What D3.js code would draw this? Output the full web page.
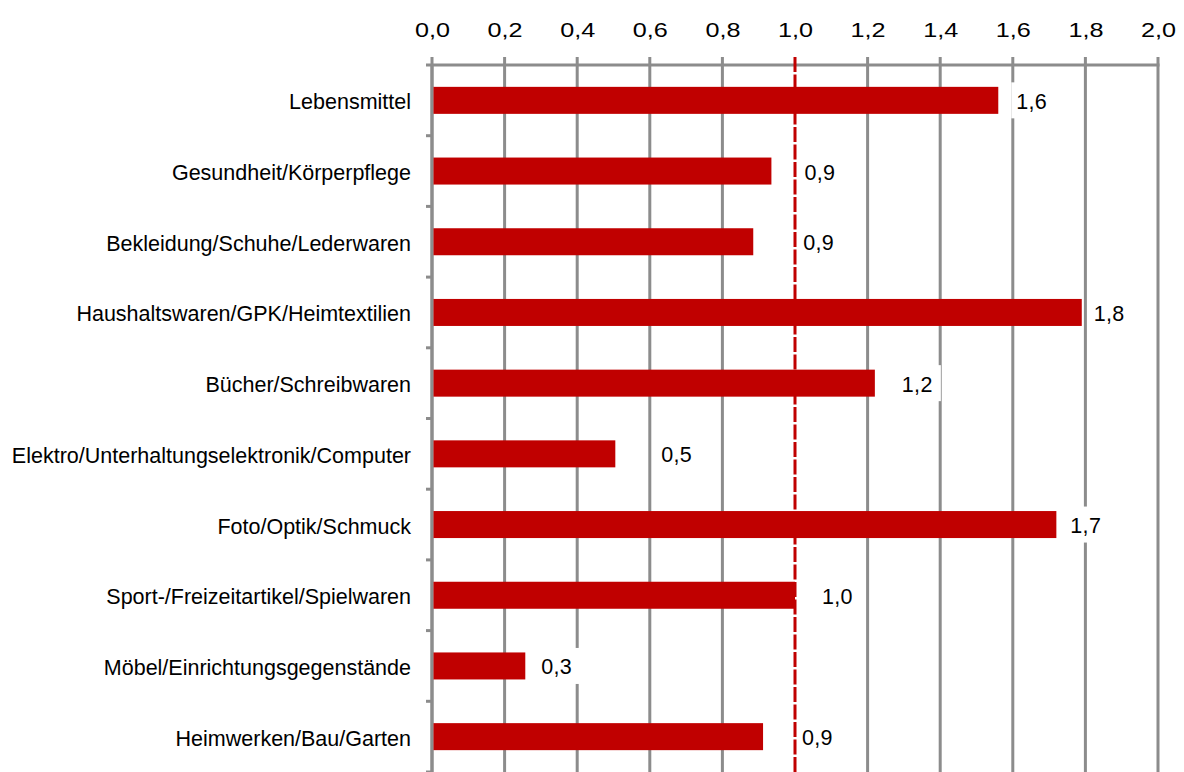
<!DOCTYPE html>
<html>
<head>
<meta charset="utf-8">
<script src="https://cdn.jsdelivr.net/npm/d3@7"></script>
<style>
  html, body { margin: 0; padding: 0; background: #ffffff; }
  svg { display: block; }
  text { font-family: Arial, "Liberation Sans", sans-serif; fill: #000; }
</style>
</head>
<body>
<svg id="chart" width="1184" height="772"></svg>
<script>
// Retail categories (top to bottom)
const categories = [
  "Lebensmittel",
  "Gesundheit/Körperpflege",
  "Bekleidung/Schuhe/Lederwaren",
  "Haushaltswaren/GPK/Heimtextilien",
  "Bücher/Schreibwaren",
  "Elektro/Unterhaltungselektronik/Computer",
  "Foto/Optik/Schmuck",
  "Sport-/Freizeitartikel/Spielwaren",
  "Möbel/Einrichtungsgegenstände",
  "Heimwerken/Bau/Garten"
];

// Index value per category
const values = [1.56, 0.935, 0.885, 1.79, 1.22, 0.505, 1.72, 1.00, 0.257, 0.912];

// Axis ticks and their labels
const tickValues = [0, 0.2, 0.4, 0.6, 0.8, 1.0, 1.2, 1.4, 1.6, 1.8, 2.0];
const tickLabels = ["0,0", "0,2", "0,4", "0,6", "0,8", "1,0", "1,2", "1,4", "1,6", "1,8", "2,0"];

// Reference level drawn as a dashed line
const referenceValue = 1.0;

// ---- layout ----
const W = 1184, H = 772;
const plot = { left: 432, right: 1158, top: 65, bottom: 772 };
const gridColor = "#8c8c8c";
const barColor = "#c00000";

// Horizontal shift (px) of each value label from its bar end
const labelNudge = [18, 33, 50, 12, 27, 46, 14, 27, 16, 39];

const svg = d3.select("#chart");

const x = d3.scaleLinear().domain([0, 2]).range([plot.left, plot.right]);
const y = d3.scaleBand()
  .domain(categories)
  .range([plot.top, plot.bottom])
  .paddingInner(0.618)
  .paddingOuter(0.309);

const band = (plot.bottom - plot.top) / categories.length;
const fmt = v => d3.format(".1f")(v).replace(".", ",");

// vertical gridlines (the reference level gets its own dashed line)
svg.append("g")
  .selectAll("line")
  .data(tickValues.filter(t => t !== referenceValue))
  .join("line")
  .attr("x1", d => x(d)).attr("x2", d => x(d))
  .attr("y1", plot.top - 8).attr("y2", plot.bottom)
  .attr("stroke", gridColor).attr("stroke-width", 3);

// top value axis
const xAxis = d3.axisTop(x)
  .tickValues(tickValues)
  .tickFormat((d, i) => tickLabels[i])
  .tickSize(0)
  .tickPadding(28);

const gx = svg.append("g")
  .attr("transform", `translate(0,${plot.top})`)
  .call(xAxis);
gx.select(".domain").remove();
gx.selectAll("text")
  .attr("font-size", 21)
  .attr("dy", 0)
  .attr("transform", "scale(1.2,1)")
  .attr("fill", "#000")
  .style("font-family", 'Arial, "Liberation Sans", sans-serif');

svg.append("line")
  .attr("x1", plot.left - 6).attr("x2", plot.right + 1.5)
  .attr("y1", plot.top).attr("y2", plot.top)
  .attr("stroke", gridColor).attr("stroke-width", 3);

// category axis on the left
svg.append("line")
  .attr("x1", plot.left).attr("x2", plot.left)
  .attr("y1", plot.top).attr("y2", plot.bottom)
  .attr("stroke", gridColor).attr("stroke-width", 3);

svg.append("g")
  .selectAll("line")
  .data(d3.range(1, categories.length + 1))
  .join("line")
  .attr("x1", plot.left - 6).attr("x2", plot.left)
  .attr("y1", i => plot.top + i * band).attr("y2", i => plot.top + i * band)
  .attr("stroke", gridColor).attr("stroke-width", 3);

svg.append("g")
  .selectAll("text")
  .data(categories)
  .join("text")
  .attr("x", plot.left - 21)
  .attr("y", d => y(d) + y.bandwidth() / 2 + 9)
  .attr("text-anchor", "end")
  .attr("font-size", 21.5)
  .text(d => d);

// bars
svg.append("g")
  .selectAll("rect")
  .data(values)
  .join("rect")
  .attr("x", x(0) + 1.5)
  .attr("y", (d, i) => y(categories[i]))
  .attr("width", d => x(d) - x(0) - 1.5)
  .attr("height", y.bandwidth())
  .attr("fill", barColor);

// dashed reference line
svg.append("line")
  .attr("x1", x(referenceValue)).attr("x2", x(referenceValue))
  .attr("y1", plot.top - 8).attr("y2", plot.bottom)
  .attr("stroke", barColor).attr("stroke-width", 3)
  .attr("stroke-dasharray", "15 2.5");

// value labels on white boxes
const labels = svg.append("g")
  .selectAll("g")
  .data(values)
  .join("g")
  .attr("transform", (d, i) =>
    `translate(${x(d) + labelNudge[i]},${y(categories[i]) + y.bandwidth() / 2})`);

labels.append("rect")
  .attr("x", -5).attr("y", -18)
  .attr("width", 44).attr("height", 36)
  .attr("fill", "#ffffff");

labels.append("text")
  .attr("x", 0).attr("y", 8.5)
  .attr("font-size", 21.5)
  .attr("letter-spacing", 0.3)
  .text(d => fmt(d));
</script>
</body>
</html>
